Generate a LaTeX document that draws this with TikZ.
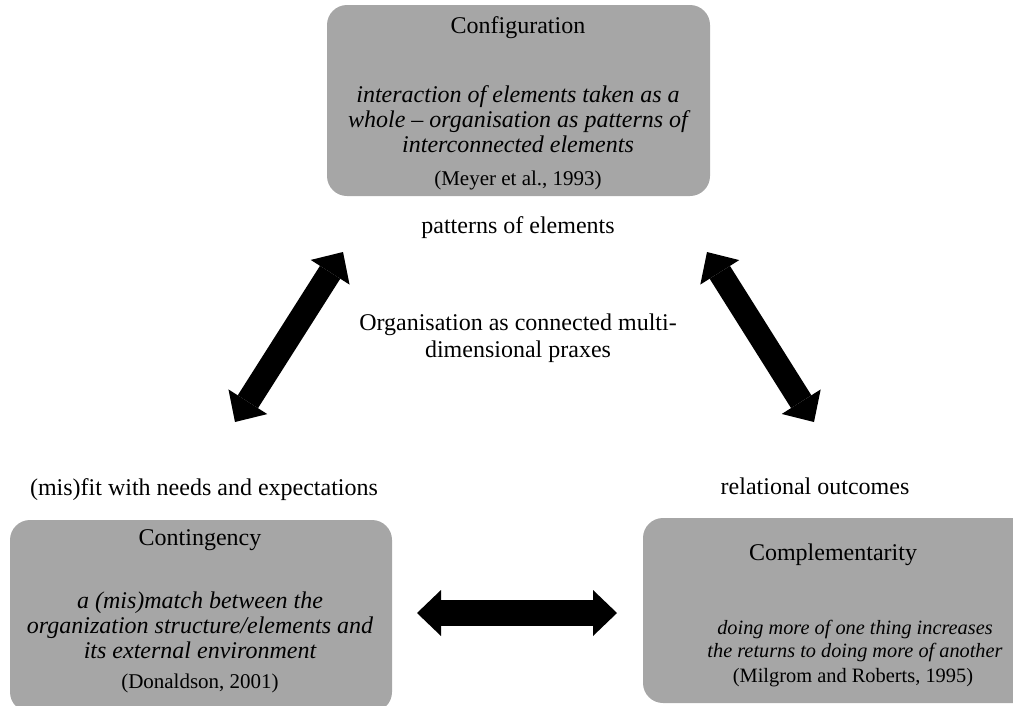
\documentclass[tikz,border=0pt]{standalone}
\usepackage{fontspec}
\setmainfont{Liberation Serif}
\usetikzlibrary{arrows.meta}
\definecolor{boxgray}{RGB}{166,166,166}
\begin{document}
\begin{tikzpicture}[x=1pt,y=-1pt,
  panel/.style={fill=boxgray, draw=none, rounded corners=20pt, inner sep=0pt},
  txt/.style={anchor=base, inner sep=0pt, font=\fontsize{24}{25}\selectfont},
  itxt/.style={anchor=base, inner sep=0pt, font=\fontsize{24}{25}\selectfont\itshape},
  ctxt/.style={anchor=base, inner sep=0pt, font=\fontsize{21}{25}\selectfont},
  sitxt/.style={anchor=base, inner sep=0pt, font=\fontsize{20.3}{23}\selectfont\itshape},
  sctxt/.style={anchor=base, inner sep=0pt, font=\fontsize{20.4}{23}\selectfont},
  tip/.style={Triangle[length=24pt,width=46pt,line width=0pt]},
  bigarrow/.style={line width=24pt, {Triangle[length=24pt,width=46pt,line width=0pt]}-{Triangle[length=24pt,width=46pt,line width=0pt]}}]
\useasboundingbox (0,0) rectangle (1013,705);

% the three panels
\node[panel, minimum width=383pt, minimum height=191pt] (cfg) at (518.5,100.5) {};
\node[panel, minimum width=382pt, minimum height=192pt] (cont) at (201,616) {};
\node[panel, minimum width=397pt, minimum height=185pt] (comp) at (841.5,610.5) {};

% Configuration panel
\node[txt]  (cfgT)  at (518,33)  {Configuration};
\node[itxt] (cfgA)  at (518,102) {interaction of elements taken as a};
\node[itxt] (cfgB)  at (518,127) {whole -- organisation as patterns of};
\node[itxt] (cfgC)  at (518,152) {interconnected elements};
\node[ctxt] (cfgR)  at (518,185) {(Meyer et al., 1993)};

% Contingency panel
\node[txt]  (contT) at (200,545) {Contingency};
\node[itxt] (contA) at (200,608) {a (mis)match between the};
\node[itxt] (contB) at (200,633) {organization structure/elements and};
\node[itxt] (contC) at (200,658) {its external environment};
\node[ctxt] (contR) at (200,688) {(Donaldson, 2001)};

% Complementarity panel
\node[txt]   (compT) at (833,560) {Complementarity};
\node[sitxt] (compA) at (855,634) {doing more of one thing increases};
\node[sitxt] (compB) at (855,657) {the returns to doing more of another};
\node[sctxt] (compR) at (853,682) {(Milgrom and Roberts, 1995)};

% free labels
\node[txt] (patt) at (518,233) {patterns of elements};
\node[txt] (orgA) at (518,330) {Organisation as connected multi-};
\node[txt] (orgB) at (518,357) {dimensional praxes};
\node[txt] (fit)  at (204,495) {(mis)fit with needs and expectations};
\node[txt] (rel)  at (815,494) {relational outcomes};

% arrow end points
\coordinate (lT) at (343,252);
\coordinate (lB) at (235,422);
\coordinate (rT) at (707,252);
\coordinate (rB) at (814,422);
\coordinate (hL) at (417,613);
\coordinate (hR) at (617,613);

% double-headed block arrows
\draw[bigarrow] (lT) -- (lB);
\draw[bigarrow] (rT) -- (rB);
\draw[bigarrow, line width=26pt] (hL) -- (hR);
\end{tikzpicture}
\end{document}
